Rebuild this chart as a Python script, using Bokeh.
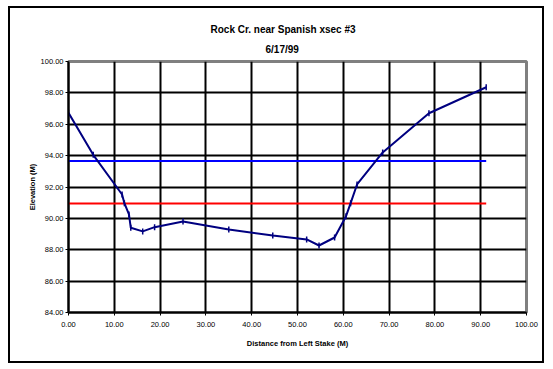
import math
from bokeh.plotting import figure
from bokeh.models import Range1d, FixedTicker, NumeralTickFormatter, Title
from bokeh.embed import file_html
from bokeh.resources import INLINE

# ---- data ----
distance = [0.0, 5.4, 11.7, 12.2, 13.2, 13.6, 16.2, 18.8, 25.0, 35.0, 44.6,
            52.0, 54.7, 58.1, 60.6, 61.6, 63.0, 68.6, 78.7, 91.2]
elevation = [96.73, 94.05, 91.52, 90.97, 90.25, 89.40, 89.17, 89.44, 89.80, 89.29, 88.91,
             88.66, 88.27, 88.78, 90.14, 90.97, 92.16, 94.20, 96.70, 98.36]
blue_level_x = [0.0, 91.2]
blue_level_y = [93.65, 93.65]
red_level_x = [0.0, 91.2]
red_level_y = [90.95, 90.95]
x_ticks = [0, 10, 20, 30, 40, 50, 60, 70, 80, 90, 100]
y_ticks = [84, 86, 88, 90, 92, 94, 96, 98, 100]

FONT = "Liberation Sans"

p = figure(width=536, height=357, output_backend="svg", toolbar_location=None,
           x_range=Range1d(0, 100), y_range=Range1d(84, 100),
           min_border_left=58, min_border_right=20, min_border_top=53, min_border_bottom=53)
p.styles = {"border": "2px solid black", "margin-left": "8px", "margin-top": "6px"}

# titles (first added sits closest to the plot)
sub = Title(text="6/17/99", text_font=FONT, text_font_size="10px", text_font_style="bold",
            align="left", offset=197, standoff=13, text_color="black")
p.add_layout(sub, "above")
main = Title(text="Rock Cr. near Spanish xsec #3", text_font=FONT, text_font_size="10px",
             text_font_style="bold", align="left", offset=142, standoff=2, text_color="black")
p.add_layout(main, "above")
p.title.text = ""

# grid
p.xgrid.ticker = FixedTicker(ticks=x_ticks)
p.ygrid.ticker = FixedTicker(ticks=y_ticks)
for g in (p.xgrid, p.ygrid):
    g.grid_line_color = "black"
    g.grid_line_width = 2
    g.grid_line_alpha = 1.0

p.outline_line_color = "#808080"
p.outline_line_width = 3

# axes
for ax, ticks in ((p.xaxis, x_ticks), (p.yaxis, y_ticks)):
    ax.ticker = FixedTicker(ticks=ticks)
    ax.formatter = NumeralTickFormatter(format="0.00")
    ax.minor_tick_line_color = None
    ax.major_tick_in = 0
    ax.major_tick_out = 3
    ax.major_tick_line_color = "black"
    ax.axis_line_color = "black"
    ax.axis_line_width = 2
    ax.major_label_text_font = FONT
    ax.major_label_text_font_size = "7.5px"
    ax.major_label_text_color = "black"
    ax.axis_label_text_font = FONT
    ax.axis_label_text_font_size = "7.5px"
    ax.axis_label_text_font_style = "bold"
    ax.axis_label_text_color = "black"

p.xaxis.axis_label = "Distance from Left Stake (M)"
p.yaxis.axis_label = "Elevation (M)"
p.xaxis.major_label_standoff = 6
p.yaxis.major_label_standoff = 2
p.xaxis.axis_label_standoff = 9
p.yaxis.axis_label_standoff = 1

# level lines
p.line(blue_level_x, blue_level_y, line_color="#0000FF", line_width=2)
p.line(red_level_x, red_level_y, line_color="#FF0000", line_width=2)

# cross-section
p.line(distance, elevation, line_color="#000080", line_width=2)
p.scatter(distance, elevation, marker="dash", angle=math.pi / 2, size=6,
          line_color="#000080", line_width=1.5)

open("out.html", "w").write(file_html(p, INLINE))
